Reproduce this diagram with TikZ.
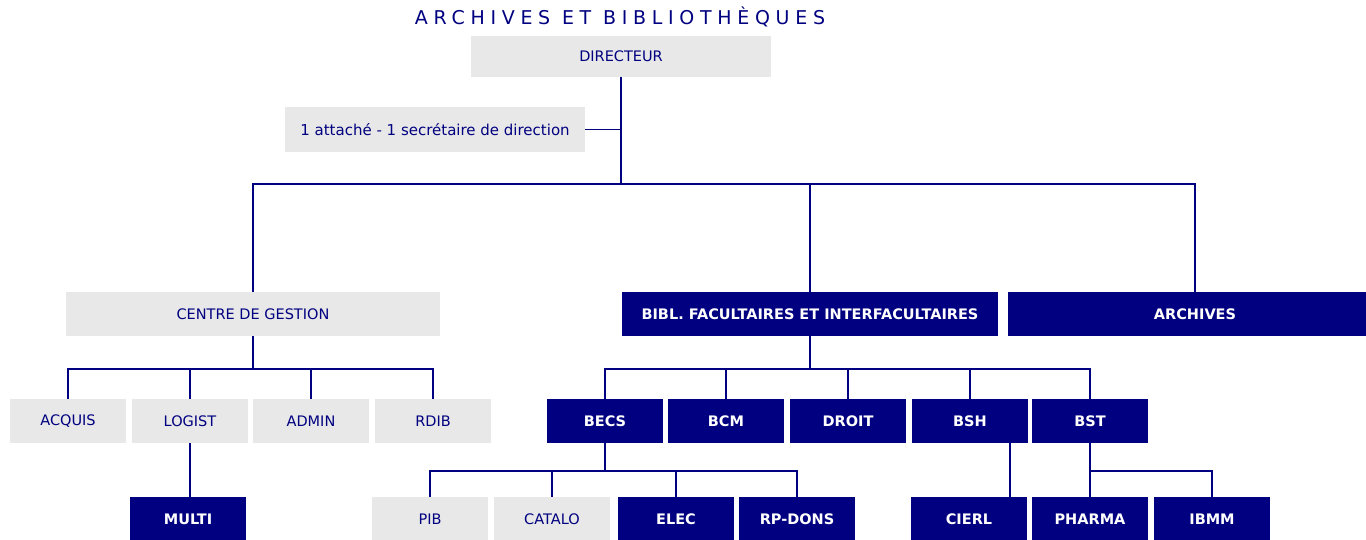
\documentclass[tikz,border=0pt]{standalone}
\usepackage{fontspec}
\setmainfont{DejaVu Sans}
\newfontfamily\titlefont[LetterSpace=30]{DejaVu Sans}
\usepackage{xcolor}
\definecolor{navyblue}{HTML}{000080}
\definecolor{boxgray}{HTML}{E8E8E8}

\begin{document}
\begin{tikzpicture}[x=1pt,y=-1pt,
    graybox/.style={fill=boxgray,text=navyblue,minimum width=116pt,minimum height=44pt,inner sep=0pt,font=\fontsize{14.5}{16}\selectfont},
    navybox/.style={graybox,fill=navyblue,text=white,font=\fontsize{14.5}{16}\selectfont\bfseries},
    link/.style={draw=navyblue,line width=1.8pt}]
    \clip (0,0) rectangle (1366,540);
    \node[text=navyblue,font=\titlefont\fontsize{19}{21}\selectfont] (title) at (620,17) {ARCHIVES ET BIBLIOTHÈQUES};
    \node[graybox,minimum width=300pt,minimum height=41pt] (dir) at (621,56.5) {DIRECTEUR};
    \node[graybox,minimum width=300pt,minimum height=45pt,font=\fontsize{15}{17}\selectfont] (att) at (435,129.5) {1 attaché - 1 secrétaire de direction};

    \node[graybox,minimum width=374pt] (cg) at (253,314) {CENTRE DE GESTION};
    \node[navybox,minimum width=376pt] (bibl) at (810,314) {BIBL. FACULTAIRES ET INTERFACULTAIRES};
    \node[navybox,minimum width=374pt] (arch) at (1195,314) {ARCHIVES};

    \node[graybox] (acq) at (68,421) {ACQUIS};
    \node[graybox] (log) at (190,421) {LOGIST};
    \node[graybox] (adm) at (311,421) {ADMIN};
    \node[graybox] (rdib) at (433,421) {RDIB};
    \node[navybox] (becs) at (605,421) {BECS};
    \node[navybox] (bcm) at (726,421) {BCM};
    \node[navybox] (droit) at (848,421) {DROIT};
    \node[navybox] (bsh) at (970,421) {BSH};
    \node[navybox] (bst) at (1090,421) {BST};

    \node[navybox] (multi) at (188,519) {MULTI};
    \node[graybox] (pib) at (430,519) {PIB};
    \node[graybox] (catalo) at (552,519) {CATALO};
    \node[navybox] (elec) at (676,519) {ELEC};
    \node[navybox] (rpdons) at (797,519) {RP-DONS};
    \node[navybox] (cierl) at (969,519) {CIERL};
    \node[navybox] (pharma) at (1090,519) {PHARMA};
    \node[navybox] (ibmm) at (1212,519) {IBMM};

    \coordinate (topbus) at (621,184);
    \coordinate (cgbus) at (253,369);
    \coordinate (biblbus) at (810,369);
    \coordinate (becsbus) at (605,471);
    \coordinate (bstbus) at (1090,471);

    \draw[link] (dir.south) -- (topbus);
    \draw[link] (att.east) -- (att.east -| dir.south);
    \foreach \n in {cg,bibl,arch}
        \draw[link] (topbus) -| (\n.north);
    \draw[link] (cg.south) -- (cgbus);
    \foreach \n in {acq,log,adm,rdib}
        \draw[link] (cgbus) -| (\n.north);
    \draw[link] (bibl.south) -- (biblbus);
    \foreach \n in {becs,bcm,droit,bsh,bst}
        \draw[link] (biblbus) -| (\n.north);
    \draw[link] (log.south) -- (log.south |- multi.north);
    \draw[link] (becs.south) -- (becsbus);
    \foreach \n in {pib,catalo,elec,rpdons}
        \draw[link] (becsbus) -| (\n.north);
    \draw[link] ([xshift=-18pt]bsh.south east) -- ([xshift=-18pt]bsh.south east |- cierl.north);
    \draw[link] (bst.south) -- (bstbus);
    \foreach \n in {pharma,ibmm}
        \draw[link] (bstbus) -| (\n.north);
\end{tikzpicture}
\end{document}
